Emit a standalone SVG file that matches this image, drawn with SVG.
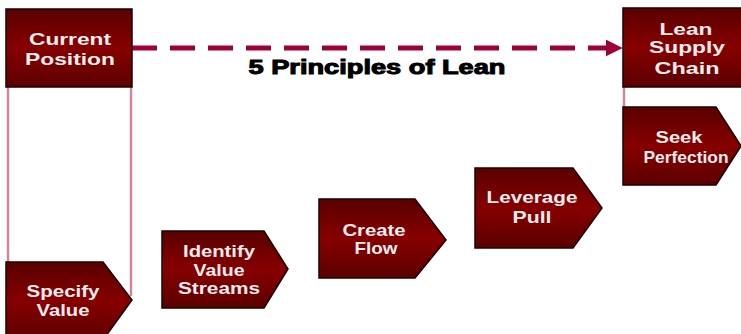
<svg xmlns="http://www.w3.org/2000/svg" width="741" height="334" viewBox="0 0 741 334">
<defs>
<linearGradient id="g" x1="0" y1="0" x2="0" y2="1">
<stop offset="0" stop-color="#5a0000"/>
<stop offset="0.5" stop-color="#860000"/>
<stop offset="1" stop-color="#5c0000"/>
</linearGradient>
<marker id="ah" viewBox="0 0 10 10" refX="9" refY="5" markerWidth="3.4" markerHeight="3.4" orient="auto" markerUnits="strokeWidth">
<path d="M0,0 L10,5 L0,10 z" fill="#9e0038"/>
</marker>
</defs>
<style>
.n{fill:url(#g);stroke:#1a0000;stroke-width:1.5}
.t{font-family:"Liberation Sans",Arial,sans-serif;font-weight:bold;font-size:17px;fill:#f4ecec;text-anchor:middle}
.pk{stroke:#d4849a;stroke-width:2.5;fill:none}
</style>
<rect width="741" height="334" fill="#ffffff"/>
<g id="connectors">
<line class="pk" x1="8" y1="87" x2="8" y2="263"/>
<line class="pk" x1="131" y1="87" x2="131" y2="296"/>
<line class="pk" x1="624" y1="60" x2="624" y2="140"/>
<line x1="132" y1="48" x2="621" y2="48" stroke="#9e0038" stroke-width="5" stroke-dasharray="25,13" marker-end="url(#ah)"/>
</g>
<g id="current-position">
<rect class="n" x="6" y="9" width="126" height="78"/>
<text class="t" x="70" y="45" textLength="82" lengthAdjust="spacingAndGlyphs">Current</text>
<text class="t" x="70" y="65" textLength="90" lengthAdjust="spacingAndGlyphs">Position</text>
</g>
<g id="lean-supply-chain">
<rect class="n" x="623" y="8" width="120" height="79"/>
<text class="t" x="686" y="35" textLength="53" lengthAdjust="spacingAndGlyphs">Lean</text>
<text class="t" x="687" y="53" textLength="76" lengthAdjust="spacingAndGlyphs">Supply</text>
<text class="t" x="687" y="74" textLength="65" lengthAdjust="spacingAndGlyphs">Chain</text>
</g>
<g id="seek-perfection">
<polygon class="n" points="623,107 716,107 741,146 716,185 623,185"/>
<text class="t" x="679" y="143" textLength="47" lengthAdjust="spacingAndGlyphs">Seek</text>
<text class="t" x="686" y="163" textLength="85" lengthAdjust="spacingAndGlyphs">Perfection</text>
</g>
<g id="specify-value">
<polygon class="n" points="6,262 103,262 132,300 103,340 6,340"/>
<text class="t" x="63" y="297" textLength="73" lengthAdjust="spacingAndGlyphs">Specify</text>
<text class="t" x="63" y="316" textLength="53" lengthAdjust="spacingAndGlyphs">Value</text>
</g>
<g id="identify-value-streams">
<polygon class="n" points="162,231 264,231 288,269 264,308 162,308"/>
<text class="t" x="219" y="257" textLength="72" lengthAdjust="spacingAndGlyphs">Identify</text>
<text class="t" x="219" y="276" textLength="51" lengthAdjust="spacingAndGlyphs">Value</text>
<text class="t" x="219" y="294" textLength="82" lengthAdjust="spacingAndGlyphs">Streams</text>
</g>
<g id="create-flow">
<polygon class="n" points="319,199 415,199 446,240 415,278 319,278"/>
<text class="t" x="374" y="236" textLength="63" lengthAdjust="spacingAndGlyphs">Create</text>
<text class="t" x="376" y="254" textLength="43" lengthAdjust="spacingAndGlyphs">Flow</text>
</g>
<g id="leverage-pull">
<polygon class="n" points="475,168 573,168 602,208 573,248 475,248"/>
<text class="t" x="532" y="203" textLength="91" lengthAdjust="spacingAndGlyphs">Leverage</text>
<text class="t" x="532" y="223" textLength="39" lengthAdjust="spacingAndGlyphs">Pull</text>
</g>
<text x="377" y="74" font-family="'Liberation Sans',Arial,sans-serif" font-weight="bold" font-size="20" fill="#000" text-anchor="middle" textLength="257" lengthAdjust="spacingAndGlyphs" stroke="#000" stroke-width="1">5 Principles of Lean</text>
</svg>
